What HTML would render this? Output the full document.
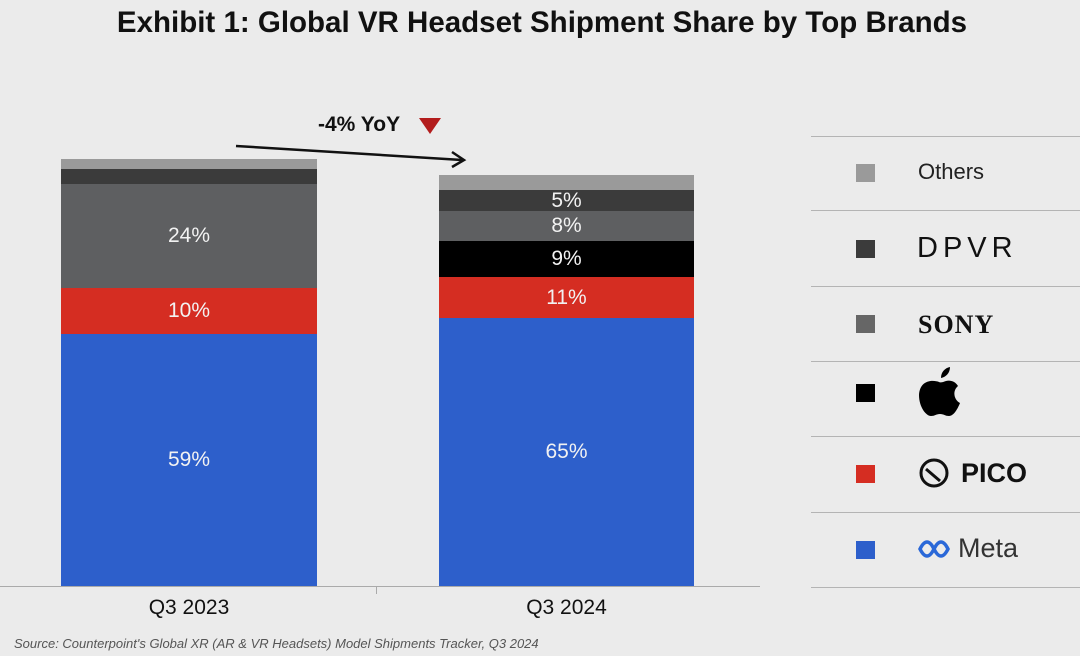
<!DOCTYPE html>
<html><head><meta charset="utf-8"><style>
body{margin:0;width:1080px;height:656px;background:#ebebeb;position:relative;overflow:hidden;font-family:"Liberation Sans",sans-serif}
.a{position:absolute}
.seg{position:absolute;color:#f2f2f2;font-size:21px;display:flex;align-items:center;justify-content:center}
.lg{position:absolute;left:811px;width:269px;height:1px;background:#b4b4b4}
.sq{position:absolute;left:856px;width:19px;height:18px}
</style></head><body>
<div class="a" style="left:0;width:1084px;top:6px;text-align:center;font-size:29.5px;font-weight:bold;color:#111">Exhibit 1: Global VR Headset Shipment Share by Top Brands</div>

<!-- left bar -->
<div class="seg" style="left:61px;width:256px;top:159px;height:10px;background:#9a9a9a"></div>
<div class="seg" style="left:61px;width:256px;top:169px;height:15px;background:#3b3b3b"></div>
<div class="seg" style="left:61px;width:256px;top:184px;height:104px;background:#5e5f61">24%</div>
<div class="seg" style="left:61px;width:256px;top:288px;height:46px;background:#d52d22">10%</div>
<div class="seg" style="left:61px;width:256px;top:334px;height:252px;background:#2d5fcb">59%</div>
<!-- right bar -->
<div class="seg" style="left:439px;width:255px;top:175px;height:15px;background:#9a9a9a"></div>
<div class="seg" style="left:439px;width:255px;top:190px;height:21px;background:#3b3b3b">5%</div>
<div class="seg" style="left:439px;width:255px;top:211px;height:30px;background:#5e5f61">8%</div>
<div class="seg" style="left:439px;width:255px;top:241px;height:36px;background:#000">9%</div>
<div class="seg" style="left:439px;width:255px;top:277px;height:41px;background:#d52d22">11%</div>
<div class="seg" style="left:439px;width:255px;top:318px;height:268px;background:#2d5fcb">65%</div>

<div class="a" style="left:0;width:760px;top:586px;height:1px;background:#aaa"></div>
<div class="a" style="left:376px;top:586px;width:1px;height:8px;background:#aaa"></div>
<div class="a" style="left:61px;width:256px;top:596px;text-align:center;font-size:21px;color:#111">Q3 2023</div>
<div class="a" style="left:439px;width:255px;top:596px;text-align:center;font-size:21px;color:#111">Q3 2024</div>

<div class="a" style="left:318px;top:113px;font-size:21px;font-weight:bold;color:#111">-4% YoY</div>
<svg class="a" style="left:0;top:0" width="1080" height="656">
<polygon points="419,118 441,118 430,134" fill="#b31c1c"/>
<line x1="236" y1="146" x2="462" y2="160" stroke="#111" stroke-width="2.5"/>
<polyline points="452,152 464,160 452,167" fill="none" stroke="#111" stroke-width="2.5"/>
<g transform="translate(920,459)"><circle cx="14" cy="14" r="13" fill="none" stroke="#111" stroke-width="3"/><line x1="6" y1="10" x2="20" y2="22" stroke="#111" stroke-width="3"/></g>
<path d="M920,549 q7,-14 14,0 q7,14 14,0 q-7,-14 -14,0 q-7,14 -14,0z" fill="none" stroke="#2a68d8" stroke-width="3.5"/>
<path d="M941,378 C941,372 945,368 950,367 C950,373 946,377 941,378 Z M939,382 C934,380 920,379 919,395 C919,407 926,416 931,416 C935,416 936,414 940,414 C944,414 945,416 949,416 C954,416 958,408 960,403 C954,400 952,391 958,386 C955,381 950,380 946,381 C943,382 941,383 939,382 Z" fill="#000"/>
</svg>

<div class="lg" style="top:136px"></div>
<div class="lg" style="top:210px"></div>
<div class="lg" style="top:286px"></div>
<div class="lg" style="top:361px"></div>
<div class="lg" style="top:436px"></div>
<div class="lg" style="top:512px"></div>
<div class="lg" style="top:587px"></div>
<div class="sq" style="top:164px;background:#9a9a9a"></div>
<div class="sq" style="top:240px;background:#3b3b3b"></div>
<div class="sq" style="top:315px;background:#666"></div>
<div class="sq" style="top:384px;background:#000"></div>
<div class="sq" style="top:465px;background:#d52d22"></div>
<div class="sq" style="top:541px;background:#2d5fcb"></div>
<div class="a" style="left:918px;top:159px;font-size:22px;color:#222">Others</div>
<div class="a" style="left:917px;top:232px;font-size:29px;color:#111;letter-spacing:5px;font-weight:300">DPVR</div>
<div class="a" style="left:918px;top:310px;font-size:26px;color:#111;font-family:'Liberation Serif',serif;font-weight:bold;letter-spacing:1px">SONY</div>
<div class="a" style="left:961px;top:458px;font-size:27px;color:#111;font-weight:bold">PICO</div>
<div class="a" style="left:958px;top:533px;font-size:27px;color:#333">Meta</div>

<div class="a" style="left:14px;top:636px;font-size:13px;font-style:italic;color:#555">Source: Counterpoint's Global XR (AR &amp; VR Headsets) Model Shipments Tracker, Q3 2024</div>
</body></html>
